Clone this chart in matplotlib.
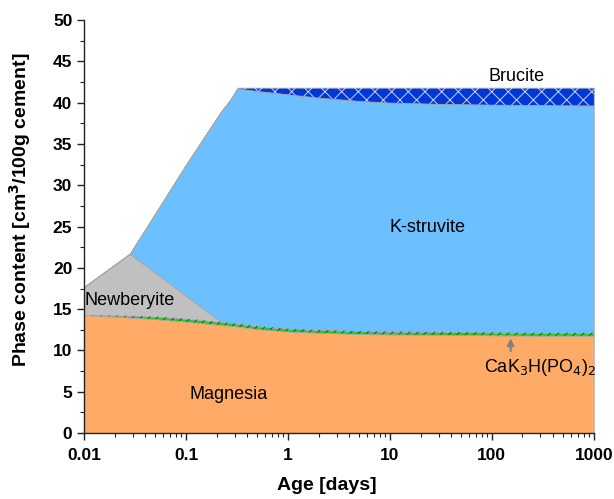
import numpy as np
import matplotlib.pyplot as plt
from matplotlib.ticker import MultipleLocator, FixedLocator, FixedFormatter

plt.rcParams['font.family'] = ['Liberation Sans', 'DejaVu Sans']
plt.rcParams['hatch.linewidth'] = 0.7

# Phase volumes [cm3/100g cement] vs. age [days]
age = [0.01, 0.028, 0.05, 0.1, 0.22, 0.27, 0.32, 0.5, 1, 2, 5, 10, 30, 100, 300, 1000]
magnesia = [14.3, 14.0, 13.8, 13.5, 13.1, 13.0, 12.9, 12.6, 12.3, 12.15, 12.0, 11.95, 11.9, 11.85, 11.8, 11.8]
cak3hpo4 = [0.0, 0.2, 0.3, 0.35, 0.35, 0.35, 0.35, 0.35, 0.35, 0.35, 0.35, 0.35, 0.35, 0.35, 0.35, 0.35]
newberyite = [3.4, 7.5, 5.3, 2.75, 0, 0, 0, 0, 0, 0, 0, 0, 0, 0, 0, 0]
k_struvite = [0, 0, 7.2, 15.9, 25.45, 26.95, 28.45, 28.45, 28.35, 28.1, 27.85, 27.7, 27.6, 27.55, 27.55, 27.5]
brucite = [0, 0, 0, 0, 0, 0, 0.1, 0.4, 0.8, 1.2, 1.6, 1.8, 1.95, 2.05, 2.1, 2.15]

x = np.array(age)
layers = [magnesia, cak3hpo4, newberyite, k_struvite, brucite]
tops = np.cumsum(np.array(layers, dtype=float), axis=0)
bottoms = np.vstack([np.zeros(len(x)), tops[:-1]])

fig = plt.figure(figsize=(6.14, 4.99), dpi=100)
ax = fig.add_axes([0.137, 0.132, 0.83, 0.828])

colors = ['#FFAA66', '#22CC22', '#C0C0C0', '#6CC0FF', '#0038D8']
for i, c in enumerate(colors):
    ax.fill_between(x, bottoms[i], tops[i], facecolor=c, edgecolor='#A8A8A8',
                    linewidth=0.6, zorder=2)

# hatching for CaK3H(PO4)2 and brucite
ax.fill_between(x, bottoms[1], tops[1], facecolor='none', edgecolor='#225522',
                hatch='////', linewidth=0, zorder=3)
ax.fill_between(x, bottoms[4], tops[4], facecolor='none', edgecolor='#C8D4FF',
                hatch='xx', linewidth=0, zorder=3)

ax.set_xscale('log')
ax.set_xlim(0.01, 1000)
ax.set_ylim(0, 50)

ax.yaxis.set_major_locator(MultipleLocator(5))
ax.yaxis.set_minor_locator(MultipleLocator(2.5))
xt = [0.01, 0.1, 1, 10, 100, 1000]
ax.xaxis.set_major_locator(FixedLocator(xt))
ax.xaxis.set_major_formatter(FixedFormatter(['0.01', '0.1', '1', '10', '100', '1000']))

for s in ['top', 'right']:
    ax.spines[s].set_visible(False)
for s in ['left', 'bottom']:
    ax.spines[s].set_color('#222222')
    ax.spines[s].set_linewidth(1.0)
    ax.spines[s].set_zorder(5)

ax.tick_params(which='major', direction='out', length=5, width=1, labelsize=12.5, color='#222222')
ax.tick_params(axis='x', which='major', pad=6)
ax.tick_params(which='minor', direction='out', length=3, width=0.8, color='#222222')
for lab in ax.get_xticklabels() + ax.get_yticklabels():
    lab.set_fontweight('bold')

ax.set_xlabel('Age [days]', fontsize=14, fontweight='bold')
ax.set_ylabel('Phase content [cm$^\\mathbf{3}$/100g cement]', fontsize=14, fontweight='bold')
ax.xaxis.set_label_coords(0.476, -0.105)
ax.yaxis.set_label_coords(-0.1, 0.54)

ax.text(176, 43.1, 'Brucite', ha='center', va='center', fontsize=13, zorder=6)
ax.text(23.5, 24.9, 'K-struvite', ha='center', va='center', fontsize=13, zorder=6)
ax.text(0.028, 16.1, 'Newberyite', ha='center', va='center', fontsize=13, zorder=6)
ax.text(0.26, 4.7, 'Magnesia', ha='center', va='center', fontsize=13, zorder=6)
ax.text(295, 8.0, 'CaK$_3$H(PO$_4$)$_2$', ha='center', va='center', fontsize=13, zorder=6)
ax.annotate('', xy=(153, 11.8), xytext=(153, 9.6),
            arrowprops=dict(arrowstyle='-|>', color='#808080', lw=1.5, mutation_scale=10),
            zorder=6)

fig.savefig('out.png', dpi=100)
